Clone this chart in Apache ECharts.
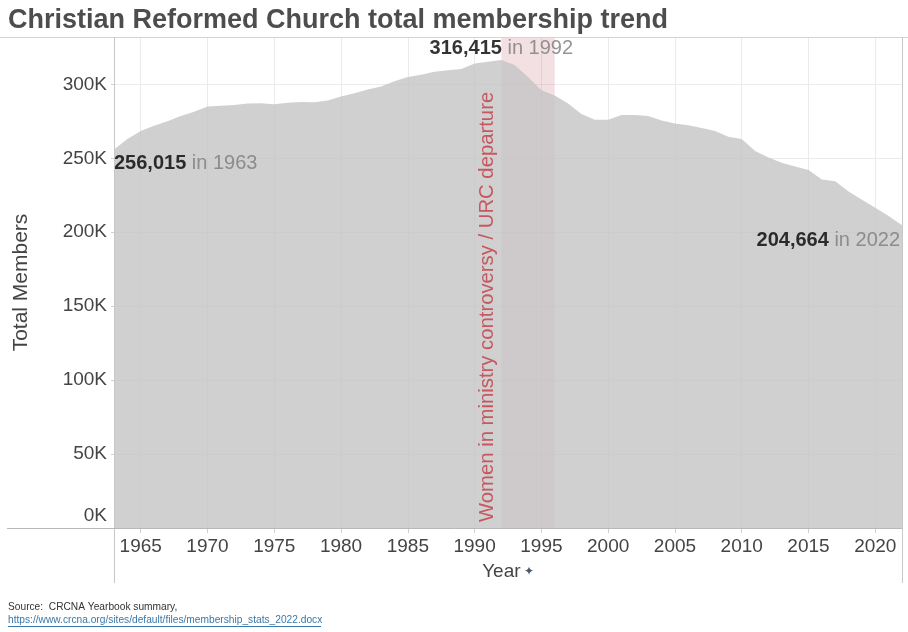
<!DOCTYPE html>
<html>
<head>
<meta charset="utf-8">
<script src="https://cdn.jsdelivr.net/npm/echarts@6/dist/echarts.min.js"></script>
<style>
html,body{margin:0;padding:0;background:#fff;}
#chart{width:908px;height:632px;}
</style>
</head>
<body>
<div id="chart"></div>
<script>
// ---- data ----
const years = ['1963','1964','1965','1966','1967','1968','1969','1970','1971','1972',
  '1973','1974','1975','1976','1977','1978','1979','1980','1981','1982',
  '1983','1984','1985','1986','1987','1988','1989','1990','1991','1992',
  '1993','1994','1995','1996','1997','1998','1999','2000','2001','2002',
  '2003','2004','2005','2006','2007','2008','2009','2010','2011','2012',
  '2013','2014','2015','2016','2017','2018','2019','2020','2021','2022'];
const members = [256015,263000,268500,272000,275000,278500,281500,285000,285500,286000,
  287000,287200,286500,287500,288000,287800,289000,291800,294000,296500,
  298500,302000,305000,306500,308500,309500,310300,314000,315300,316415,
  313000,305000,296000,292500,287000,280000,276000,276000,279300,279300,
  278500,275500,273500,272300,270500,268500,264500,263000,255000,250500,
  247000,244500,242000,235600,234500,227500,222000,216500,211000,204664];
const annotationYears = ['1963','1992','2022'];
const bandStart = '1992';
const bandEnd = '1996';
const bandLabel = 'Women in ministry controversy / URC departure';
const titleText = 'Christian Reformed Church total membership trend';
const sourceLine1 = 'Source:  CRCNA Yearbook summary,';
const sourceLine2 = 'https://www.crcna.org/sites/default/files/membership_stats_2022.docx';

// ---- chart ----
const FONT = '"Liberation Sans", Arial, sans-serif';
const chart = echarts.init(document.getElementById('chart'), null, {renderer: 'canvas'});
const every5 = (i, v) => (+v) % 5 === 0;

const annoPlacement = {
  '1963': {position: [0, 14], align: 'left'},
  '1992': {position: [0, -12], align: 'center'},
  '2022': {position: [-2, 15], align: 'right'}
};
const annoData = annotationYears.map(y => {
  const v = members[years.indexOf(y)];
  const p = annoPlacement[y];
  return {
    value: [y, v],
    label: {
      show: true,
      position: p.position,
      align: p.align,
      verticalAlign: 'middle',
      formatter: '{b|' + v.toLocaleString('en-US') + '}{g| in ' + y + '}',
      rich: {
        b: {fontFamily: FONT, fontWeight: 'bold', fontSize: 20, color: '#000'},
        g: {fontFamily: FONT, fontSize: 20, color: '#7a7a7a'}
      }
    }
  };
});

const option = {
  animation: false,
  backgroundColor: '#fff',
  title: {
    text: titleText,
    left: 3, top: 2,
    textStyle: {fontFamily: FONT, fontSize: 27, fontWeight: 'bold', color: '#4d4d4d'}
  },
  grid: {left: 114, right: 6, top: 37, bottom: 104, containLabel: false},
  xAxis: {
    type: 'category',
    data: years,
    boundaryGap: false,
    axisLine: {show: false},
    axisTick: {show: true, interval: every5, length: 5, lineStyle: {color: '#d0d0d0'}},
    axisLabel: {interval: every5, fontFamily: FONT, fontSize: 19, color: '#444', margin: 9},
    splitLine: {show: true, interval: every5, lineStyle: {color: '#ebebeb', width: 1}},
    name: '{n|Year} {p|✦}',
    nameLocation: 'middle',
    nameGap: 34,
    nameTextStyle: {
      rich: {
        n: {fontFamily: FONT, fontSize: 19, color: '#444'},
        p: {fontFamily: FONT, fontSize: 12, color: '#4a5a6a'}
      }
    }
  },
  yAxis: {
    type: 'value',
    min: 0, max: 332000, interval: 50000,
    axisLine: {show: false},
    axisTick: {show: true, length: 3, lineStyle: {color: '#d0d0d0'}},
    axisLabel: {
      showMaxLabel: false,
      fontFamily: FONT, fontSize: 19, color: '#444', margin: 7,
      formatter: v => v === 0 ? '{z|0K}' : (v / 1000) + 'K',
      rich: {z: {fontFamily: FONT, fontSize: 19, color: '#444', padding: [0, 0, 24, 0]}}
    },
    splitLine: {show: true, lineStyle: {color: '#ebebeb', width: 1}},
    name: 'Total Members',
    nameLocation: 'middle',
    nameGap: 82,
    nameTextStyle: {fontFamily: FONT, fontSize: 21, color: '#444'}
  },
  series: [
    {
      name: 'Total Members',
      type: 'line',
      data: members,
      symbol: 'none',
      lineStyle: {width: 0},
      areaStyle: {color: 'rgba(196,196,196,0.8)', opacity: 1},
      z: 2
    },
    {
      type: 'line',
      data: [],
      z: 3,
      markArea: {
        silent: true,
        itemStyle: {color: 'rgba(195,100,115,0.2)'},
        data: [[{xAxis: bandStart}, {xAxis: bandEnd}]]
      }
    },
    {
      type: 'scatter',
      symbolSize: 0,
      clip: false,
      z: 5,
      data: [{
        value: [bandStart, 0],
        label: {
          show: true,
          position: [-4, -6],
          rotate: 90,
          align: 'left',
          verticalAlign: 'bottom',
          formatter: bandLabel,
          fontFamily: FONT, fontSize: 20.3, color: '#c23a44'
        }
      }].concat(annoData)
    }
  ],
  graphic: [
    {type: 'line', shape: {x1: 0, y1: 37.5, x2: 908, y2: 37.5}, style: {stroke: '#d4d4d4', lineWidth: 1}, z: 10},
    {type: 'line', shape: {x1: 114.5, y1: 37, x2: 114.5, y2: 583}, style: {stroke: '#c8c8c8', lineWidth: 1}, z: 10},
    {type: 'line', shape: {x1: 902.5, y1: 37, x2: 902.5, y2: 583}, style: {stroke: '#c8c8c8', lineWidth: 1}, z: 10},
    {type: 'line', shape: {x1: 7, y1: 528.5, x2: 902, y2: 528.5}, style: {stroke: '#b8b8b8', lineWidth: 1}, z: 10},
    {type: 'text', left: 8, top: 602, style: {text: sourceLine1, fontFamily: FONT, fontSize: 10.2, fill: '#333'}},
    {type: 'text', left: 8, top: 615, style: {text: sourceLine2, fontFamily: FONT, fontSize: 10.2, fill: '#3a78a8'}},
    {type: 'line', shape: {x1: 8, y1: 626.5, x2: 321, y2: 626.5}, style: {stroke: '#3a78a8', lineWidth: 1}}
  ]
};
chart.setOption(option);
</script>
</body>
</html>
